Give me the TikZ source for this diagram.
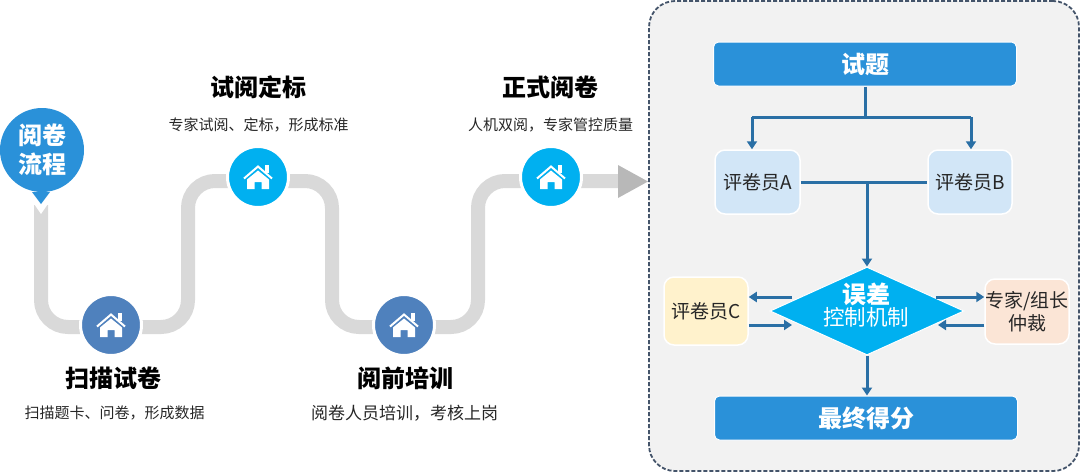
\documentclass[tikz,border=0pt]{standalone}
\usepackage{fontspec}
\setmainfont{Noto Sans CJK SC}
\usepackage{xcolor}
\usetikzlibrary{arrows.meta, positioning, calc, shapes.geometric}
\definecolor{bluebar}{HTML}{2A91D9}
\definecolor{skyblue}{HTML}{00B0F0}
\definecolor{steelblue}{HTML}{4F81BD}
\definecolor{flowblue}{HTML}{2A6FA5}
\definecolor{panelgray}{HTML}{F2F2F2}
\definecolor{panelline}{HTML}{44546A}
\definecolor{trackgray}{HTML}{D9D9D9}
\definecolor{tipgray}{HTML}{B8B8B8}
\definecolor{boxblue}{HTML}{D2E6F7}
\definecolor{boxyellow}{HTML}{FFF2CC}
\definecolor{boxorange}{HTML}{FBE5D6}
\tikzset{
    pics/homeicon/.style={code={
        \fill[white] (7,-12) rectangle (11,-4);
        \fill[white] (-11,2.5) -- (0,-6.5) -- (11,2.5) -- (11,12) -- (3.5,12) -- (3.5,5)
            -- (-3.5,5) -- (-3.5,12) -- (-11,12) -- cycle;
        \draw[white, line width=2pt] (-14,1.5) -- (0,-10.5) -- (14,1.5);
    }}
}
\begin{document}
\begin{tikzpicture}[x=1pt, y=-1pt, inner sep=0pt,
    title/.style={font=\bfseries\fontsize{24}{27}\selectfont},
    subtitle/.style={font=\fontsize{15}{18}\selectfont, text=black!85},
    track/.style={draw=trackgray, line width=14pt, rounded corners=27pt},
    stepdot/.style={circle, draw=white, line width=3pt, minimum size=61pt},
    bar/.style={rounded corners=5pt, fill=bluebar, draw=white, line width=1pt, text=white,
        font=\bfseries\fontsize{24}{28}\selectfont},
    marker/.style={rounded corners=10pt, draw=white, line width=1.5pt, align=center,
        font=\fontsize{19}{23}\selectfont, text=black!85},
    flow/.style={draw=flowblue, line width=3pt},
    arrow/.style={flow, -{Triangle[length=8pt, width=10pt]}}]
    \useasboundingbox (0,0) rectangle (1080,472);

    % left side
    \coordinate (start) at (41,205);
    \draw[track] (start) -- (41,327) -- (188,327) -- (188,181) -- (332,181) -- (332,327)
        -- (478,327) -- (478,181) -- (622,181);
    \fill[tipgray] (618,165) -- (648,181.5) -- (618,198) -- cycle;
    \node[stepdot, fill=steelblue] (scan) at (111,325) {};
    \node[stepdot, fill=skyblue] (trial) at (258,177) {};
    \node[stepdot, fill=steelblue] (train) at (404,325) {};
    \node[stepdot, fill=skyblue] (formal) at (551,177) {};
    \foreach \n in {scan, trial, train, formal}
        \pic at (\n) {homeicon};

    \fill[white] (30,198) -- (41,214) -- (52,198) -- cycle;
    \fill[bluebar] (32,192) -- (41,204) -- (50,192) -- cycle;
    \node[circle, fill=bluebar, minimum size=84pt, align=center, text=white,
        font=\bfseries\fontsize{24}{29}\selectfont] (bubble) at (42,150) {阅卷\\流程};

    \node[title] (scantitle) at (113,378) {扫描试卷};
    \node[subtitle] (scantext) at (114.5,413) {扫描题卡、问卷，形成数据};
    \node[title] (trialtitle) at (258,87) {试阅定标};
    \node[subtitle] (trialtext) at (258.5,125) {专家试阅、定标，形成标准};
    \node[title] (traintitle) at (405,378) {阅前培训};
    \node[subtitle, font=\fontsize{17}{20}\selectfont] (traintext) at (404.5,413) {阅卷人员培训，考核上岗};
    \node[title] (formaltitle) at (550,87) {正式阅卷};
    \node[subtitle] (formaltext) at (550.5,125) {人机双阅，专家管控质量};

    % right side
    \node[draw=panelline, fill=panelgray, line width=1.8pt, dash pattern=on 4pt off 2pt, rounded corners=26pt,
        minimum width=430pt, minimum height=470pt] (panel) at (864,236) {};

    \node[bar, minimum width=303pt, minimum height=44pt] (paper) at (865,64) {试题};
    \node[bar, minimum width=303pt, minimum height=44pt] (score) at (866,418) {最终得分};
    \node[marker, fill=boxblue, minimum width=85pt, minimum height=64pt] (markera) at (757.5,182) {评卷员A};
    \node[marker, fill=boxblue, minimum width=84pt, minimum height=64pt] (markerb) at (970,182) {评卷员B};
    \node[marker, fill=boxyellow, minimum width=84pt, minimum height=68pt] (markerc) at (706,311) {评卷员C};
    \node[marker, fill=boxorange, minimum width=84pt, minimum height=65pt] (expert) at (1027,311.5) {专家/组长\\仲裁};
    \node[diamond, fill=skyblue, draw=white, line width=1pt, minimum width=194pt, minimum height=88pt] (control) at (867,311) {};
    \node[align=center, text=white] (controltext) at (866,305)
        {{\bfseries\fontsize{24}{27}\selectfont 误差}\\{\fontsize{21.5}{24}\selectfont 控制机制}};

    \coordinate (fork) at (865,117);
    \coordinate (forka) at (752,117);
    \coordinate (forkb) at (971,117);
    \coordinate (join) at (867,182);
    \coordinate (lefttop) at (792,297);
    \coordinate (leftlow) at (792,325);
    \coordinate (righttop) at (936,297);
    \coordinate (rightlow) at (938,325);

    \draw[flow] (paper.south) -- (fork);
    \draw[flow] (forka) -- (forkb);
    \draw[arrow] (forka) -- (forka |- markera.north);
    \draw[arrow] (forkb) -- (forkb |- markerb.north);
    \draw[flow] (markera.east) -- (markerb.west);
    \draw[arrow] (join) -- (control.north);
    \draw[arrow] (control.south) -- (control.south |- score.north);
    \draw[arrow] (lefttop) -- (lefttop -| markerc.east);
    \draw[arrow] (leftlow -| markerc.east) -- (leftlow);
    \draw[arrow] (righttop) -- (righttop -| expert.west);
    \draw[arrow] (rightlow -| expert.west) -- (rightlow);
\end{tikzpicture}
\end{document}
